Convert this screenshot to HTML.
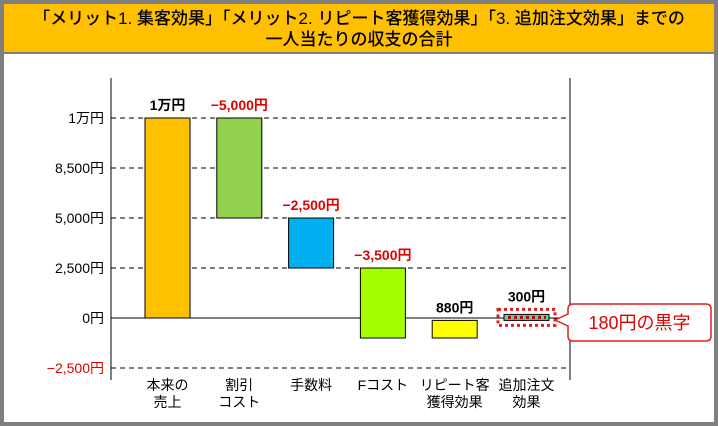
<!DOCTYPE html>
<html><head><meta charset="utf-8"><style>
body{margin:0;width:718px;height:426px;overflow:hidden;background:#fff;font-family:"Liberation Sans","Noto Sans CJK JP",sans-serif}
#frame{position:absolute;left:0;top:0;width:710px;height:418px;border:4px solid #7f7f7f;background:#fff}
#title{position:absolute;left:0;top:0;width:710px;height:50px;background:#FFC000;border-bottom:2px solid #7f7f7f;text-align:center;font-size:17px;font-weight:500;line-height:21px;padding-top:4px;box-sizing:border-box;color:#000}
</style></head><body>
<div id="frame">
<div id="title">「メリット1. 集客効果」「メリット2. リピート客獲得効果」「3. 追加注文効果」までの<br>一人当たりの収支の合計</div>
</div>
<svg id="chart" width="718" height="426" style="position:absolute;left:0;top:0"></svg>
<script>
const categories=[["本来の","売上"],["割引","コスト"],["手数料"],["Fコスト"],["リピート客","獲得効果"],["追加注文","効果"]];
const deltas=[10000,-5000,-2500,-3500,880,300];
const valueLabels=["1万円","−5,000円","−2,500円","−3,500円","880円","300円"];
const barColors=["#FFC000","#92D050","#00B0F0","#A6FF00","#FFFF00","#66CCAA"];
const tickValues=[10000,7500,5000,2500,0,-2500];
const tickLabels=["1万円","8,500円","5,000円","2,500円","0円","−2,500円"];
const NS="http://www.w3.org/2000/svg";
const svg=document.getElementById('chart');
const y=v=>318-v*0.02;
const x=i=>145+i*71.8;
function mk(t,a,txt){const e=document.createElementNS(NS,t);for(const k in a)e.setAttribute(k,a[k]);if(txt!==undefined)e.textContent=txt;svg.appendChild(e);return e;}
tickValues.forEach((v,i)=>{
 if(v!==0){const g=mk('line',{x1:111,x2:570,y1:y(v),y2:y(v),stroke:'#000','stroke-dasharray':'5,4','stroke-width':1});
 
 }
 const t=mk('text',{x:104,y:y(v)+5,'text-anchor':'end','font-size':14,fill:v<0?'#E00000':'#000'},tickLabels[i]);
 
 
});
const ax=mk('line',{x1:111,x2:111,y1:78,y2:380,stroke:'#000'});


const ax2=mk('line',{x1:570,x2:570,y1:78,y2:380,stroke:'#000'});


const zl=mk('line',{x1:111,x2:570,y1:y(0),y2:y(0),stroke:'#000'});


let cum=0;
deltas.forEach((d,i)=>{
 const a=cum,b=cum+d;cum=b;
 const top=Math.min(y(a),y(b)),h=Math.abs(y(a)-y(b));
 const r=mk('rect',{x:x(i),y:top,width:45,height:h,fill:barColors[i],stroke:'#000','stroke-width':1});
 
 
 if(i===5){
  const dl=mk('line',{x1:x(i)+4,x2:x(i)+42,y1:top+h/2,y2:top+h/2,stroke:'#C00000','stroke-width':3,'stroke-dasharray':'3,3'});
  
  
  const hr=mk('rect',{x:x(i)-6,y:top-5,width:57,height:h+10,fill:'none',stroke:'#E02020','stroke-width':3,'stroke-dasharray':'3,3'});
  
  
 }
 const lt=mk('text',{x:x(i)+22.5,y:top-(i===5?13:8),'text-anchor':'middle','font-size':14,'font-weight':'bold',fill:d<0?'#E00000':'#000'},valueLabels[i]);
 
 
 categories[i].forEach((s,j)=>{
  const c=mk('text',{x:x(i)+22.5,y:390+j*17,'text-anchor':'middle','font-size':14,fill:'#000'},s);
  
  
 });
});
const co=mk('path',{d:'M573,304 H706 Q711,304 711,309 V336 Q711,341 706,341 H573 Q568,341 568,336 V326 L555,320 L568,314 V309 Q568,304 573,304 Z',fill:'#fff',stroke:'#E02020','stroke-width':1.5});


const ct=mk('text',{x:639.5,y:329,'text-anchor':'middle','font-size':18,fill:'#E00000'},'180円の黒字');


</script>
</body></html>
